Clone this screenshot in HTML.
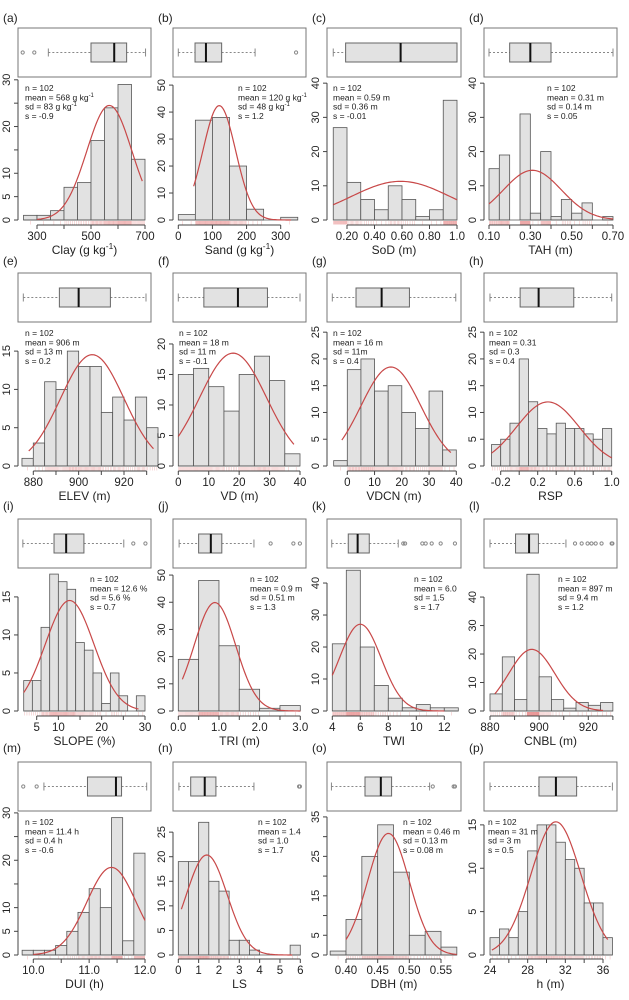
<!DOCTYPE html>
<html><head><meta charset="utf-8"><style>
html,body{margin:0;padding:0;background:#fff;}
svg{display:block;font-family:"Liberation Sans","DejaVu Sans",sans-serif;}
</style></head><body>
<svg id="fig" width="629" height="1000" viewBox="0 0 629 1000" xmlns="http://www.w3.org/2000/svg"><rect width="629" height="1000" fill="#fff"/></svg>
<script>
// ---- data ----
const panelKeys = ['a','b','c','d','e','f','g','h','i','j','k','l','m','n','o','p'];
const titles = ['Clay (g kg|-1|)','Sand (g kg|-1|)','SoD (m)','TAH (m)','ELEV (m)','VD (m)','VDCN (m)','RSP','SLOPE (%)','TRI (m)','TWI','CNBL (m)','DUI (h)','LS','DBH (m)','h (m)'];
const binStarts = [250,0,0.1,0.1,875,0,-5,-0.3,2,0,4,880,9.8,0,0.375,24];
const binWidths = [50,50,0.1,0.05,5,5,5,0.1,2,0.5,1,5,0.2,0.5,0.025,1];
const countsA = [1,1,2,7,8,17,24,29,13];
const countsB = [2,37,38,20,4,0,1];
const countsC = [27,11,6,3,10,6,1,3,35];
const countsD = [15,19,0,31,2,20,1,6,2,5,0,1];
const countsE = [1,3,11,10,15,13,13,7,9,6,9,5];
const countsF = [15,16,13,9,15,18,14,2];
const countsG = [1,18,20,14,15,10,7,14,3];
const countsH = [4,5,8,20,12,7,6,8,7,7,6,5,7];
const countsI = [4,4,11,18,17,16,9,8,5,1,5,2,0,2];
const countsJ = [19,48,24,8,1,2];
const countsK = [21,44,20,8,4,1,2,1,1];
const countsL = [6,19,4,48,12,4,1,3,2,3];
const countsM = [1,1,1,2,5,9,14,10,29,3,21.5];
const countsN = [19,19,27,15,13,3,3,1,0,0,0,2];
const countsO = [1,9,25,33,21,5,6,2];
const countsP = [2,3,2,5,12,15,15,13,11,10,6,6,2];
const allCounts = [countsA,countsB,countsC,countsD,countsE,countsF,countsG,countsH,countsI,countsJ,countsK,countsL,countsM,countsN,countsO,countsP];
// fitted normal curve parameters (as drawn)
const curveMeans = [568,120,0.59,0.31,906,18,16,0.31,12.6,0.9,6.0,897,11.4,1.4,0.467,31];
const curveSds = [83,48,0.36,0.14,14,11,11,0.34,5.6,0.51,1.5,9.4,0.44,1.0,0.033,2.65];
const curveFrom = [300,45,0.1,0.1,878,0,-2,-0.3,2,0.1,4,882,10,0.15,0.4,24.2];
const curveTo = [690,330,1.0,0.7,933,38,38,1.0,28.5,3.0,12,926,12,5.6,0.575,36.5];
// boxplot stats: [lowWhisker, q1, median, q3, highWhisker]
const boxStats = [
 [342,500,586,632,702],[0,49,81,127,225],[0.1,0.19,0.59,1.0,1.0],[0.1,0.2,0.3,0.4,0.7],
 [875.6,891.5,900,914,929.7],[0,8.4,19.6,29.3,40],[-5.5,3.2,12.6,22.8,39.8],[-0.316,0.01,0.21,0.59,1.0],
 [1.8,9,11.8,15.9,25.1],[0.02,0.5,0.8,1.07,1.86],[3.96,5.14,5.81,6.64,8.71],[880,890.4,895.9,899.7,910.9],
 [10.19,10.97,11.48,11.58,12.03],[0.03,0.61,1.3,1.85,3.72],[0.377,0.43,0.455,0.472,0.532],[24,29.2,31,33.2,37]];
const outliers = [[247,290],[345],[],[],[],[],[],[],[27.3,30.1],[2.27,2.83,2.99],[9.07,9.2,10.43,10.67,11.1,11.74,12.76],
 [914.6,917.3,919.7,921.3,923,925.4,929.5,929.8],[9.82,10.06],[5.94,5.98],[0.537,0.57,0.572],[]];
const statLines = [
 ['n = 102','mean = 568 g kg|-1|','sd = 83 g kg|-1|','s = -0.9'],
 ['n = 102','mean = 120 g kg|-1|','sd = 48 g kg|-1|','s = 1.2'],
 ['n = 102','mean = 0.59 m','sd = 0.36 m','s = -0.01'],
 ['n = 102','mean = 0.31 m','sd = 0.14 m','s = 0.05'],
 ['n = 102','mean = 906 m','sd = 13 m','s = 0.2'],
 ['n = 102','mean = 18 m','sd = 11 m','s = -0.1'],
 ['n = 102','mean = 16 m','sd = 11m','s = 0.4'],
 ['n = 102','mean = 0.31','sd = 0.3','s = 0.4'],
 ['n = 102','mean = 12.6 %','sd = 5.6 %','s = 0.7'],
 ['n = 102','mean = 0.9 m','sd = 0.51 m','s = 1.3'],
 ['n = 102','mean = 6.0','sd = 1.5','s = 1.7'],
 ['n = 102','mean = 897 m','sd = 9.4 m','s = 1.2'],
 ['n = 102','mean = 11.4 h','sd = 0.4 h','s = -0.6'],
 ['n = 102','mean = 1.4','sd = 1.0','s = 1.7'],
 ['n = 102','mean = 0.46 m','sd = 0.13 m','s = 0.08 m'],
 ['n = 102','mean = 31 m','sd = 3 m','s = 0.5']];
const xTicks = [[300,400,500,600,700],[0,100,200,300],[0.2,0.4,0.6,0.8,1.0],[0.1,0.2,0.3,0.4,0.5,0.6,0.7],
 [880,890,900,910,920,930],[0,10,20,30,40],[0,10,20,30,40],[-0.2,0,0.2,0.4,0.6,0.8,1.0],
 [5,10,15,20,25,30],[0,0.5,1,1.5,2,2.5,3],[4,6,8,10,12],[880,890,900,910,920,930],
 [10,10.5,11,11.5,12],[0,1,2,3,4,5,6],[0.40,0.45,0.50,0.55],[24,26,28,30,32,34,36]];
const xTickLabels = [['300','','500','','700'],['0','100','200','300'],['0.20','0.40','0.60','0.80','1.0'],['0.10','','0.30','','0.50','','0.70'],
 ['880','','900','','920',''],['0','10','20','30','40'],['0','10','20','30','40'],['-0.2','','0.2','','0.6','','1.0'],
 ['5','10','','20','','30'],['0.0','','1.0','','2.0','','3.0'],['4','6','8','10','12'],['880','','900','','920',''],
 ['10.0','','11.0','','12.0'],['0','1','2','3','4','5','6'],['0.40','0.45','0.50','0.55'],['24','','28','','32','','36']];
const yTicks = [[0,5,10,15,20,25,30],[0,10,20,30,40,50],[0,10,20,30,40],[0,10,20,30,40],
 [0,5,10,15],[0,5,10,15,20],[0,5,10,15,20,25],[0,5,10,15,20,25],
 [0,5,10,15],[0,10,20,30,40,50],[0,10,20,30,40],[0,10,20,30,40],
 [0,5,10,15,20,25,30],[0,5,10,15,20,25],[0,5,10,15,20,25,30,35],[0,5,10,15]];
const yTickLabels = [['0','5','10','','20','','30'],['0','10','20','30','40','50'],['0','10','20','30','40'],['0','10','20','30','40'],
 ['0','5','10','15'],['0','5','10','15','20'],['0','5','10','15','20','25'],['0','5','10','15','20','25'],
 ['0','5','10','15'],['0','10','20','30','40','50'],['0','10','20','30','40'],['0','10','20','30','40'],
 ['0','5','10','','20','','30'],['0','5','10','15','20','25'],['0','5','','15','','25','','35'],['0','5','10','15']];
// ---- layout (pixel calibration, not data) ----
const colL=[18,173,327,484], colR=[151,306,461,617];
const rowTop=[28,273,519,762], rowY0=[220,466,711,955], rowAxis=[225,471,716,959], rowLab=[22,265,510,752];
const yLims=[30.6,53,41.8,41.8,18.8,23.6,26.9,26.9,18.8,52.6,44.7,50.2,30.4,29.3,36.5,16.6];
const xCal=[[300,37,700,145],[0,178.3,300,280.7],[0.2,347,1.0,457],[0.1,489,0.7,613],
 [880,33.3,920,124],[0,178.3,40,300],[0,347.3,40,456.3],[-0.2,500.7,1.0,611.7],
 [5,36.7,30,145],[0,178.3,3,300.3],[4,332.3,12,444.3],[880,490,920,588.3],
 [10,33.3,12,145],[0,178.3,6,300.3],[0.40,346,0.55,441],[24,490,36,603]];
const statX=[25,238,333,547,25,179,333,489,90,250,414,558,25,258,403,488];

const NS='http://www.w3.org/2000/svg';
const svg=document.getElementById('fig');
function mk(tag,attrs,parent){const e=document.createElementNS(NS,tag);for(const k in attrs)e.setAttribute(k,attrs[k]);(parent||svg).appendChild(e);return e;}
function supText(el,str,size){
  const parts=str.split('|');
  parts.forEach((p,i)=>{if(!p)return;const t=mk('tspan',{},el);
    if(i%2===1){t.setAttribute('dy','-'+(size*0.4));t.setAttribute('font-size',size*0.7);}
    else if(i>0){t.setAttribute('dy',''+(size*0.4));}
    t.textContent=p;});
}
panelKeys.forEach((key,pi)=>{
  const col=pi%4,row=Math.floor(pi/4);
  const L=colL[col],R=colR[col],top=rowTop[row],y0=rowY0[row],ax=rowAxis[row],hTop=top+49;
  const c=xCal[pi];
  const xs=v=>c[1]+(v-c[0])*(c[3]-c[1])/(c[2]-c[0]);
  const ys=v=>y0-v*(y0-hTop)/yLims[pi];
  const g=mk('g',{});
  
  
  const lab=mk('text',{x:L-15,y:rowLab[row],'font-size':12,fill:'#222'},g);
  
  
  lab.textContent='('+key+')';
  const fr=mk('rect',{x:L,y:top,width:R-L,height:49,fill:'none',stroke:'#777','stroke-width':1},g);
  
  
  const bs=boxStats[pi],by1=top+15,by2=top+34,bm=(by1+by2)/2;
  const bg=mk('g',{},g);
  
  
  mk('line',{x1:xs(bs[0]),x2:xs(bs[1]),y1:bm,y2:bm,stroke:'#888','stroke-dasharray':'2,2'},bg);
  mk('line',{x1:xs(bs[3]),x2:xs(bs[4]),y1:bm,y2:bm,stroke:'#888','stroke-dasharray':'2,2'},bg);
  mk('line',{x1:xs(bs[0]),x2:xs(bs[0]),y1:bm-4,y2:bm+4,stroke:'#888'},bg);
  mk('line',{x1:xs(bs[4]),x2:xs(bs[4]),y1:bm-4,y2:bm+4,stroke:'#888'},bg);
  mk('rect',{x:xs(bs[1]),y:by1,width:Math.max(1,xs(bs[3])-xs(bs[1])),height:by2-by1,fill:'#e2e2e2',stroke:'#666'},bg);
  mk('line',{x1:xs(bs[2]),x2:xs(bs[2]),y1:by1,y2:by2,stroke:'#111','stroke-width':2},bg);
  outliers[pi].forEach(v=>{const o=mk('circle',{cx:xs(v),cy:bm,r:1.6,fill:'none',stroke:'#888'},bg);
    
    });
  const counts=allCounts[pi],bw=binWidths[pi],b0=binStarts[pi];
  counts.forEach((n,i)=>{const xa=xs(b0+i*bw),xb=xs(b0+(i+1)*bw);
    const r=mk('rect',{x:xa,y:ys(n),width:xb-xa,height:y0-ys(n),fill:'#e2e2e2',stroke:'#555','stroke-width':0.8},g);
    
    });
  mk('line',{x1:xs(b0),x2:xs(b0+counts.length*bw),y1:y0,y2:y0,stroke:'#555','stroke-width':0.8},g);
  const rug=mk('g',{},g);
  
  
  counts.forEach((n,i)=>{const k=Math.round(n);for(let j=0;j<k;j++){const v=b0+i*bw+bw*(j+0.5)/k;const x=xs(v);
    mk('line',{x1:x,x2:x,y1:y0+1,y2:y0+4.5,stroke:'#e06060','stroke-width':0.4,opacity:0.55},rug);}});
  const m=curveMeans[pi],s=curveSds[pi],N=102;
  let d='';for(let k=0;k<=80;k++){const v=curveFrom[pi]+(curveTo[pi]-curveFrom[pi])*k/80;
    const dens=N*bw*Math.exp(-0.5*((v-m)/s)**2)/(s*Math.sqrt(2*Math.PI));
    d+=(k?'L':'M')+xs(v).toFixed(2)+','+ys(dens).toFixed(2);}
  const cv=mk('path',{d:d,fill:'none',stroke:'#c84848','stroke-width':1.2},g);
  
  
  const yt=yTicks[pi];
  const ya=mk('g',{},g);
  
  
  mk('line',{x1:L,x2:L,y1:ys(yt[0]),y2:ys(yt[yt.length-1]),stroke:'#444'},ya);
  yt.forEach((v,i)=>{const y=ys(v);mk('line',{x1:L-4,x2:L,y1:y,y2:y,stroke:'#444'},ya);
    const lbl=yTickLabels[pi][i];if(lbl){const t=mk('text',{x:L-8,y:y,'font-size':11,fill:'#222','text-anchor':'middle',transform:'rotate(-90 '+(L-8)+' '+y+')'},ya);t.textContent=lbl;}});
  const xt=xTicks[pi];
  const xa=mk('g',{},g);
  
  
  mk('line',{x1:xs(xt[0]),x2:xs(xt[xt.length-1]),y1:ax,y2:ax,stroke:'#444'},xa);
  xt.forEach((v,i)=>{const x=xs(v);mk('line',{x1:x,x2:x,y1:ax,y2:ax+4,stroke:'#444'},xa);
    const lbl=xTickLabels[pi][i];if(lbl){const t=mk('text',{x:x,y:ax+15,'font-size':11.5,fill:'#222','text-anchor':'middle'},xa);t.textContent=lbl;}});
  const tt=mk('text',{x:(L+R)/2,y:ax+29,'font-size':12,fill:'#222','text-anchor':'middle'},g);
  
  
  supText(tt,titles[pi],12);
  const st=mk('g',{},g);
  
  
  statLines[pi].forEach((line,i)=>{const t=mk('text',{x:statX[pi],y:top+63+i*9.3,'font-size':8.5,fill:'#222'},st);supText(t,line,8.5);});
});
</script>
</body></html>
